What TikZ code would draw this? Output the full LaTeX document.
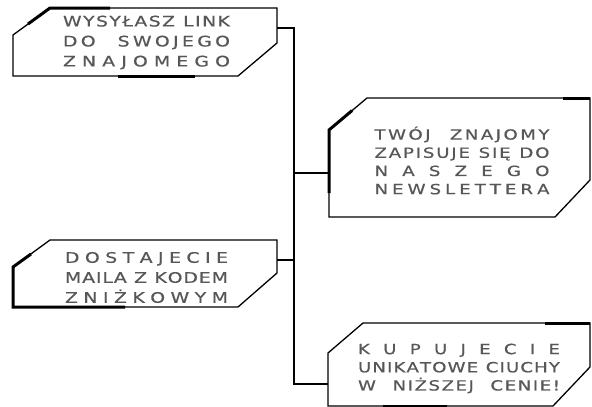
\documentclass[tikz,border=0pt]{standalone}
\usepackage{fontspec}
\setmainfont{DejaVu Sans}[FakeStretch=1.3,FakeBold=0.6]
\newcommand\g{\hskip 0pt plus 1fil\relax}
\newcommand\w{\hskip 6pt plus 1.5fil\relax}
\newcommand\W{\hskip 12pt plus 3fil\relax}
\newcommand\jl[2]{\makebox[#1][s]{#2}}
\begin{document}
\begin{tikzpicture}[x=1pt,y=-1pt]
\tikzset{
  outline/.style={line width=1.3pt, black, line join=miter},
  accent/.style={line width=3pt, black, line cap=butt},
  wire/.style={line width=1.3pt, black},
  lbl/.style={text=black!66, font=\fontsize{14.5}{20}\selectfont, align=center, inner sep=0pt},
  lblb/.style={lbl, font=\fontsize{14}{18.2}\selectfont}
}
\useasboundingbox (0,0) rectangle (592,407);
\fill[white] (0,0) rectangle (592,407);

% box 1
\draw[outline] (50,8) -- (277,8) -- (277,43) -- (238,76) -- (13,76) -- (13,35) -- cycle;
\draw[accent] (28,24) -- (50,8) -- (110,8);
\draw[accent] (118,76) -- (195,76);
\node[lbl] (t1) at (146.5,42.5) {%
\jl{167pt}{W\g Y\g S\g Y\g Ł\g A\g S\g Z\w L\g I\g N\g K}\\
\jl{167pt}{D\g O\W S\g W\g O\g J\g E\g G\g O}\\
\jl{167pt}{Z\g N\g A\g J\g O\g M\g E\g G\g O}};

% box 2
\draw[outline] (367,98) -- (590,98) -- (590,180) -- (555,217) -- (329,217) -- (329,130) -- cycle;
\draw[accent] (563,98) -- (590,98);
\draw[accent] (352,110.6) -- (329,130) -- (329,193);
\node[lblb] (t2) at (462,160.5) {%
\jl{175pt}{T\g W\g Ó\g J\W Z\g N\g A\g J\g O\g M\g Y}\\
\jl{175pt}{Z\g A\g P\g I\g S\g U\g J\g E\w S\g I\g Ę\w D\g O}\\
\jl{175pt}{N\g A\g S\g Z\g E\g G\g O}\\
\jl{175pt}{N\g E\g W\g S\g L\g E\g T\g T\g E\g R\g A}};

% box 3
\draw[outline] (50,240) -- (277,240) -- (277,273) -- (238,307) -- (13,307) -- (13,267) -- cycle;
\draw[accent] (31,254) -- (13,267) -- (13,307) -- (125,307);
\node[lbl] (t3) at (146.5,277.5) {%
\jl{163pt}{D\g O\g S\g T\g A\g J\g E\g C\g I\g E}\\
\jl{163pt}{M\g A\g I\g L\g A\w Z\w K\g O\g D\g E\g M}\\
\jl{163pt}{Z\g N\g I\g Ż\g K\g O\g W\g Y\g M}};

% box 4
\draw[outline] (363,323) -- (590,323) -- (590,367) -- (553,406) -- (328,406) -- (328,353) -- cycle;
\draw[accent] (545,323) -- (590,323);
\draw[accent] (383,406) -- (447,406);
\node[lblb] (t4) at (459,368.5) {%
\jl{202pt}{K\g U\g P\g U\g J\g E\g C\g I\g E}\\
\jl{202pt}{U\g N\g I\g K\g A\g T\g O\g W\g E\w C\g I\g U\g C\g H\g Y}\\
\jl{202pt}{W\W N\g I\g Ż\g S\g Z\g E\g J\W C\g E\g N\g I\g E\g !}};

% connectors
\coordinate (b1e) at (277,28);
\coordinate (j1) at (294,28);
\coordinate (j2) at (294,173);
\coordinate (b2w) at (329,173);
\coordinate (b3e) at (277,260);
\coordinate (j3) at (294,260);
\coordinate (j4) at (294,384);
\coordinate (b4w) at (328,384);
\draw[wire] (b1e) -- (j1) -- (j4) -- (b4w);
\draw[wire] (j2) -- (b2w);
\draw[wire] (b3e) -- (j3);
\end{tikzpicture}
\end{document}
